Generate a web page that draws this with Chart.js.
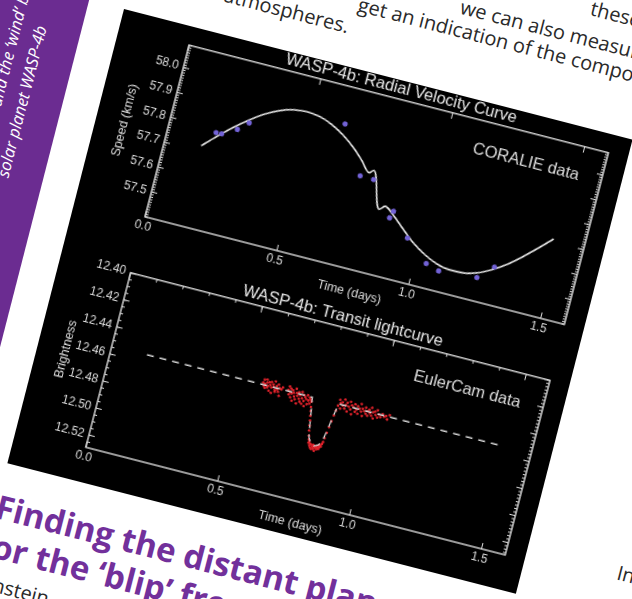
<!DOCTYPE html>
<html>
<head>
<meta charset="utf-8">
<script src="https://cdn.jsdelivr.net/npm/chart.js@4.4.0/dist/chart.umd.min.js"></script>
<style>
html, body { margin: 0; padding: 0; background: #fff; }
body { width: 632px; height: 599px; overflow: hidden; position: relative; font-family: "Open Sans", sans-serif; }
#page { position: absolute; left: 124px; top: 9px; width: 0; height: 0; transform-origin: 0 0; transform: rotate(14.4deg); }
#page div, #page canvas { position: absolute; }
#panel { left: 0; top: 0; width: 525px; height: 469px; background: #000; }
#sidebar { left: -420px; top: -300px; width: 384px; height: 760px; background: #6b2c91; }
.side { color: #fff; font-style: italic; font-size: 16.5px; line-height: 20px; white-space: nowrap; transform-origin: 0 0; transform: rotate(-90deg); }
.body { color: #2a2a2a; font-size: 20px; line-height: 23px; white-space: nowrap; }
.head { color: #72309b; font-weight: bold; font-size: 33px; line-height: 36px; white-space: nowrap; }
</style>
</head>
<body>
<div id="page">
  <div id="sidebar"></div>
  <div class="side" style="left:-110.6px; top:126px;">and the ‘wind’ blowing</div>
  <div class="side" style="left:-85.6px; top:193px;">solar planet WASP-4b</div>

  <div class="body" style="left:452px; top:-129.3px;">these planets,</div>
  <div class="body" style="left:325.6px; top:-98.3px;">we can also measure the</div>
  <div class="body" style="left:226px; top:-75.3px;">get an indication of the composition of</div>
  <div class="body" style="left:-378px; top:-51.3px; width:600px; text-align:right;">their atmospheres.</div>

  <div id="panel"></div>
  <canvas id="rv" width="525" height="227" style="left:0; top:-1px;"></canvas>
  <canvas id="lc" width="525" height="230" style="left:0; top:234px;"></canvas>

  <div class="body" style="left:618px; top:411px;">In</div>
  <div class="head" style="left:0; top:494.6px;">Finding the distant planets</div>
  <div class="head" style="left:-6px; top:533.6px;">for the ‘blip’ from the star</div>
  <div class="body" style="left:0; top:577.7px;">Einstein</div>
</div>

<script>
// radial velocity panel
const rvModelTime  = [0.135, 0.18, 0.23, 0.28, 0.33, 0.38, 0.43, 0.48, 0.53, 0.58, 0.63, 0.68, 0.72, 0.757, 0.772,
                      0.826, 0.845, 0.88, 0.93, 0.98, 1.03, 1.08, 1.13, 1.18, 1.23, 1.28, 1.33, 1.38, 1.43, 1.474];
const rvModelSpeed = [57.722, 57.770, 57.820, 57.864, 57.902, 57.930, 57.947, 57.953, 57.947, 57.929, 57.900, 57.861, 57.822, 57.783, 57.796,
                      57.655, 57.672, 57.648, 57.603, 57.560, 57.528, 57.505, 57.495, 57.496, 57.509, 57.535, 57.570, 57.615, 57.665, 57.712];
const rvObsTime    = [0.176, 0.197, 0.249, 0.285, 0.627, 0.728, 0.779, 0.871, 0.879, 0.953, 1.043, 1.094, 1.236, 1.289];
const rvObsSpeed   = [57.786, 57.787, 57.819, 57.855, 57.944, 57.763, 57.762, 57.633, 57.661, 57.574, 57.496, 57.480, 57.492, 57.549];
const rvTickValues = [57.5, 57.6, 57.7, 57.8, 57.9, 58.0];
const rvTickLabels = ['57.5', '57.6', '57.7', '57.8', '57.9', '58.0'];

// transit lightcurve panel
const lcModelTime = [0.133, 0.760, 0.768, 0.776, 0.784, 0.795, 0.810, 0.825, 0.836, 0.844, 0.852, 0.860, 1.483];
const lcModelMag  = [12.454, 12.454, 12.463, 12.473, 12.482, 12.486, 12.4875, 12.486, 12.482, 12.473, 12.463, 12.454, 12.454];
const lcObsTime = [
  0.572, 0.575, 0.577, 0.580, 0.582, 0.585, 0.587, 0.590,
  0.592, 0.595, 0.598, 0.600, 0.603, 0.605, 0.608, 0.611,
  0.613, 0.616, 0.619, 0.621, 0.624, 0.627, 0.630, 0.633,
  0.636, 0.639, 0.643, 0.647, 0.668, 0.671, 0.673, 0.676,
  0.678, 0.681, 0.683, 0.686, 0.689, 0.691, 0.694, 0.697,
  0.699, 0.702, 0.705, 0.707, 0.710, 0.713, 0.715, 0.718,
  0.721, 0.724, 0.726, 0.729, 0.732, 0.735, 0.737, 0.740,
  0.743, 0.746, 0.749, 0.752, 0.755, 0.758, 0.761, 0.764,
  0.767, 0.770, 0.773, 0.776, 0.779, 0.783, 0.786, 0.788,
  0.790, 0.793, 0.795, 0.797, 0.800, 0.802, 0.805, 0.807,
  0.809, 0.812, 0.814, 0.816, 0.819, 0.821, 0.823, 0.826,
  0.828, 0.830, 0.833, 0.835, 0.837, 0.839, 0.841, 0.844,
  0.847, 0.850, 0.853, 0.856, 0.859, 0.862, 0.866, 0.869,
  0.873, 0.876, 0.880, 0.884, 0.887, 0.891, 0.895, 0.898,
  0.902, 0.906, 0.909, 0.913, 0.917, 0.920, 0.924, 0.928,
  0.931, 0.935, 0.939, 0.942, 0.946, 0.950, 0.953, 0.957,
  0.961, 0.964, 0.968, 0.972, 0.975, 0.979, 0.983, 0.986,
  0.990, 0.994, 0.997, 1.001, 1.005, 1.009, 1.013, 1.020,
  1.026, 1.033, 1.040, 1.046, 1.052
];
const lcObsMag = [
  12.4525, 12.4502, 12.4548, 12.4531, 12.4560, 12.4497, 12.4519, 12.4553,
  12.4540, 12.4511, 12.4572, 12.4529, 12.4506, 12.4545, 12.4583, 12.4521,
  12.4538, 12.4495, 12.4556, 12.4568, 12.4527, 12.4549, 12.4512, 12.4563,
  12.4536, 12.4590, 12.4541, 12.4524, 12.4531, 12.4505, 12.4562, 12.4544,
  12.4518, 12.4579, 12.4550, 12.4526, 12.4601, 12.4542, 12.4567, 12.4509,
  12.4585, 12.4537, 12.4556, 12.4612, 12.4528, 12.4574, 12.4547, 12.4593,
  12.4521, 12.4566, 12.4605, 12.4539, 12.4582, 12.4551, 12.4617, 12.4563,
  12.4534, 12.4598, 12.4570, 12.4548, 12.4589, 12.4560, 12.4572, 12.4610,
  12.4638, 12.4672, 12.4705, 12.4741, 12.4776, 12.4812, 12.4838, 12.4862,
  12.4851, 12.4879, 12.4866, 12.4893, 12.4871, 12.4902, 12.4884, 12.4868,
  12.4897, 12.4879, 12.4909, 12.4886, 12.4872, 12.4895, 12.4881, 12.4863,
  12.4889, 12.4874, 12.4858, 12.4867, 12.4846, 12.4831, 12.4801, 12.4760,
  12.4718, 12.4672, 12.4628, 12.4590, 12.4552, 12.4508, 12.4531, 12.4569,
  12.4520, 12.4544, 12.4497, 12.4561, 12.4533, 12.4515, 12.4578, 12.4540,
  12.4503, 12.4557, 12.4526, 12.4589, 12.4537, 12.4512, 12.4565, 12.4548,
  12.4521, 12.4574, 12.4535, 12.4499, 12.4553, 12.4530, 12.4582, 12.4544,
  12.4516, 12.4560, 12.4539, 12.4571, 12.4525, 12.4548, 12.4507, 12.4563,
  12.4536, 12.4579, 12.4528, 12.4551, 12.4514, 12.4566, 12.4541, 12.4557,
  12.4532, 12.4548, 12.4539, 12.4561, 12.4527
];
const lcTickValues = [12.40, 12.42, 12.44, 12.46, 12.48, 12.50, 12.52];
const lcTickLabels = ['12.40', '12.42', '12.44', '12.46', '12.48', '12.50', '12.52'];

const timeTicks = [0, 0.5, 1.0, 1.5];
const timeTickLabels = ['0.0', '0.5', '1.0', '1.5'];

const ink = '#dcdcdc';
Chart.defaults.font.family = '"Liberation Sans", Arial, sans-serif';
Chart.defaults.color = ink;

const pts = (xs, ys) => xs.map((x, i) => ({x: x, y: ys[i]}));
const steps = (a, b, s) => { const out = []; for (let v = a; v <= b + 1e-9; v += s) out.push(v); return out; };

// IDL style box: frame plus inward ticks on all four sides, and a note in the corner
const idlFrame = {
  id: 'idlFrame',
  afterDatasetsDraw(chart, args, o) {
    const {ctx, chartArea: a} = chart;
    const xs = chart.scales.x, ys = chart.scales.y;
    ctx.save();
    ctx.strokeStyle = ink;
    ctx.lineWidth = 1.4;
    ctx.strokeRect(a.left, a.top, a.right - a.left, a.bottom - a.top);
    ctx.lineWidth = 1;
    ctx.beginPath();
    const xMarks = (vals, len, atTop) => vals.forEach(v => {
      const p = xs.getPixelForValue(v);
      const y0 = atTop ? a.top : a.bottom;
      ctx.moveTo(p, y0); ctx.lineTo(p, atTop ? y0 + len : y0 - len);
    });
    const yMarks = (vals, len, atRight) => vals.forEach(v => {
      const p = ys.getPixelForValue(v);
      const x0 = atRight ? a.right : a.left;
      ctx.moveTo(x0, p); ctx.lineTo(atRight ? x0 - len : x0 + len, p);
    });
    xMarks(o.xMajor, 6, true); xMarks(o.xMajor, 6, false);
    if (o.xTopMinor) xMarks(steps(0.1, xs.max, o.xTopMinor), 3, true);
    yMarks(o.yMajor, 6, false); yMarks(o.yMajor, 6, true);
    yMarks(steps(ys.min, ys.max, o.yLeftMinor), 3, false);
    yMarks(steps(ys.min, ys.max, o.yRightMinor), 3, true);
    ctx.stroke();
    ctx.fillStyle = ink;
    ctx.font = '16.5px "Liberation Sans", Arial, sans-serif';
    ctx.textAlign = 'right';
    ctx.textBaseline = 'alphabetic';
    ctx.fillText(o.note, a.right - 23, a.top + 34);
    ctx.restore();
  }
};

const xScale = {
  type: 'linear', min: 0, max: 1.59,
  afterBuildTicks: s => { s.ticks = timeTicks.map(v => ({value: v})); },
  afterFit: s => { s.height = 30; },
  ticks: {callback: (v, i) => timeTickLabels[i], font: {size: 12}, padding: 2, maxRotation: 0, autoSkip: false, color: ink},
  grid: {display: false, drawTicks: false},
  border: {display: false},
  title: {display: true, text: 'Time (days)', font: {size: 12.5}, padding: 0, color: ink}
};

// title centred over the plot box, not over the whole canvas
const titleOpts = text => ({display: true, fullSize: false, text: text, color: '#e6e6e6',
  font: {size: 16.5, weight: 'normal'}, padding: {top: 0, bottom: 0}});

new Chart(document.getElementById('rv'), {
  type: 'scatter',
  data: {
    datasets: [
      {type: 'line', data: pts(rvModelTime, rvModelSpeed), borderColor: '#ececec', borderWidth: 1.6,
       pointRadius: 0, cubicInterpolationMode: 'monotone', order: 1},
      {data: pts(rvObsTime, rvObsSpeed), backgroundColor: '#7262d6', borderWidth: 0, pointRadius: 2.6, order: 0}
    ]
  },
  options: {
    responsive: false, animation: false,
    layout: {padding: {right: 20}},
    plugins: {
      legend: {display: false}, tooltip: {enabled: false},
      title: titleOpts('WASP-4b: Radial Velocity Curve'),
      idlFrame: {xMajor: timeTicks, yMajor: rvTickValues, yLeftMinor: 0.01, yRightMinor: 0.01, note: 'CORALIE data'}
    },
    scales: {
      x: xScale,
      y: {
        type: 'linear', min: 57.4, max: 58.09,
        afterBuildTicks: s => { s.ticks = rvTickValues.map(v => ({value: v})); },
        afterFit: s => { s.width = 72; },
        ticks: {callback: (v, i) => rvTickLabels[i], font: {size: 12}, padding: 5, autoSkip: false, color: ink},
        grid: {display: false, drawTicks: false},
        border: {display: false},
        title: {display: true, text: 'Speed (km/s)', font: {size: 12.5}, padding: {top: 21, bottom: 0}, color: ink}
      }
    }
  },
  plugins: [idlFrame]
});

new Chart(document.getElementById('lc'), {
  type: 'scatter',
  data: {
    datasets: [
      {type: 'line', data: pts(lcModelTime, lcModelMag), borderColor: '#d8d8d8', borderWidth: 1.3,
       borderDash: [7, 6], pointRadius: 0, tension: 0, order: 0},
      {data: pts(lcObsTime, lcObsMag), backgroundColor: '#e3222b', borderWidth: 0, pointRadius: 1.3, order: 1}
    ]
  },
  options: {
    responsive: false, animation: false,
    layout: {padding: {right: 20}},
    plugins: {
      legend: {display: false}, tooltip: {enabled: false},
      title: titleOpts('WASP-4b: Transit lightcurve'),
      idlFrame: {xMajor: timeTicks, xTopMinor: 0.1, yMajor: lcTickValues, yLeftMinor: 0.005, yRightMinor: 0.0025, note: 'EulerCam data'}
    },
    scales: {
      x: Object.assign({}, xScale),
      y: {
        type: 'linear', min: 12.40, max: 12.529, reverse: true,
        afterBuildTicks: s => { s.ticks = lcTickValues.map(v => ({value: v})); },
        afterFit: s => { s.width = 72; },
        ticks: {callback: (v, i) => lcTickLabels[i], font: {size: 12}, padding: 5, autoSkip: false, color: ink},
        grid: {display: false, drawTicks: false},
        border: {display: false},
        title: {display: true, text: 'Brightness', font: {size: 12.5}, padding: {top: 21, bottom: 0}, color: ink}
      }
    }
  },
  plugins: [idlFrame]
});
</script>
</body>
</html>
